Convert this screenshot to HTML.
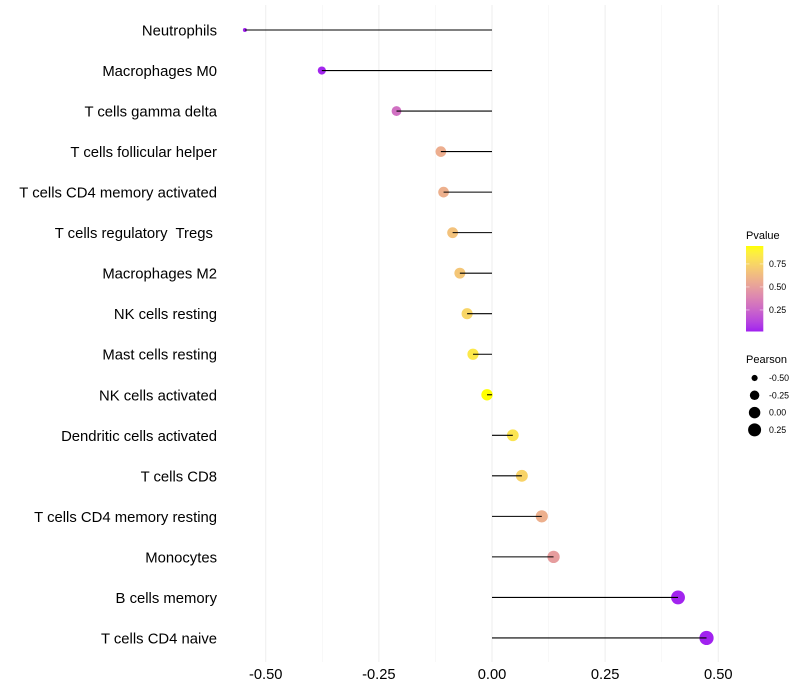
<!DOCTYPE html>
<html>
<head>
<meta charset="utf-8">
<title>Immune cell correlation lollipop chart</title>
<style>
html,body{margin:0;padding:0;background:#fff;}
svg{display:block;}
text{font-family:"Liberation Sans",sans-serif;fill:#000;white-space:pre;}
</style>
</head>
<body>
<svg id="chart" xmlns="http://www.w3.org/2000/svg" width="800" height="700" viewBox="0 0 800 700">
<defs>
<linearGradient id="pvalue-gradient" x1="0" y1="1" x2="0" y2="0"></linearGradient>
</defs>
<rect x="0" y="0" width="800" height="700" fill="#fff"></rect>
<g id="grid"></g>
<g id="points"></g>
<g id="stems"></g>
<g id="ylabels"></g>
<g id="xlabels"></g>
<g id="legend-color"></g>
<g id="legend-size"></g>
</svg>
<script>
const categories = ["Neutrophils","Macrophages M0","T cells gamma delta","T cells follicular helper","T cells CD4 memory activated","T cells regulatory  Tregs ","Macrophages M2","NK cells resting","Mast cells resting","NK cells activated","Dendritic cells activated","T cells CD8","T cells CD4 memory resting","Monocytes","B cells memory","T cells CD4 naive"];
const pearson = [-0.546,-0.376,-0.211,-0.113,-0.107,-0.087,-0.071,-0.055,-0.042,-0.011,0.046,0.066,0.11,0.136,0.411,0.474];
const pvalue = [0.02,0.03,0.29,0.57,0.58,0.66,0.68,0.75,0.84,0.945,0.82,0.74,0.58,0.49,0.025,0.02];
const xTicks = [-0.5,-0.25,0,0.25,0.5];
const xTickLabels = ["-0.50","-0.25","0.00","0.25","0.50"];
const xMinorTicks = [-0.375,-0.125,0.125,0.375];
const pvalueTicks = [0.25,0.5,0.75];
const pvalueTickLabels = ["0.25","0.50","0.75"];
const pearsonLegendValues = [-0.5,-0.25,0,0.25];
const pearsonLegendLabels = ["-0.50","-0.25","0.00","0.25"];

const NS = "http://www.w3.org/2000/svg";
const X0 = 492, XK = 452.6, Y0 = 30, YSTEP = 40.53;
const xScale = v => X0 + v * XK;
const yScale = i => Y0 + i * YSTEP;
const pMin = 0.016, pMax = 0.945;
const sizeMin = Math.min(...pearson), sizeMax = Math.max(...pearson);
const rScale = v => {
  const t = Math.max(0, Math.min(1, (v - sizeMin) / ((sizeMax - sizeMin) || 1)));
  return 2.0 + Math.sqrt(t) * 5.1;
};
function rgb2lab(c){
  const f = x => { x /= 255; return x > 0.04045 ? Math.pow((x + 0.055) / 1.055, 2.4) : x / 12.92; };
  const r = f(c[0]), g = f(c[1]), b = f(c[2]);
  const X = (0.4124 * r + 0.3576 * g + 0.1805 * b) / 0.95047;
  const Y = 0.2126 * r + 0.7152 * g + 0.0722 * b;
  const Z = (0.0193 * r + 0.1192 * g + 0.9505 * b) / 1.08883;
  const h = t => t > 0.008856 ? Math.cbrt(t) : 7.787 * t + 16 / 116;
  return [116 * h(Y) - 16, 500 * (h(X) - h(Y)), 200 * (h(Y) - h(Z))];
}
function lab2rgb(l){
  const fy = (l[0] + 16) / 116, fx = l[1] / 500 + fy, fz = fy - l[2] / 200;
  const h = t => t * t * t > 0.008856 ? t * t * t : (t - 16 / 116) / 7.787;
  const X = h(fx) * 0.95047, Y = h(fy), Z = h(fz) * 1.08883;
  const g = x => { x = x > 0.0031308 ? 1.055 * Math.pow(x, 1 / 2.4) - 0.055 : 12.92 * x; return Math.round(Math.max(0, Math.min(1, x)) * 255); };
  return "rgb(" + g(3.2406 * X - 1.5372 * Y - 0.4986 * Z) + "," + g(-0.9689 * X + 1.8758 * Y + 0.0415 * Z) + "," + g(0.0557 * X - 0.2040 * Y + 1.0570 * Z) + ")";
}
const labLow = rgb2lab([160, 32, 240]), labHigh = rgb2lab([255, 255, 0]);
function colorAt(t){
  t = Math.max(0, Math.min(1, t));
  return lab2rgb(labLow.map((v, i) => v + (labHigh[i] - v) * t));
}
const pColor = p => colorAt((p - pMin) / (pMax - pMin));
function mk(tag, attrs, parent, content){
  const el = document.createElementNS(NS, tag);
  for (const k in attrs) el.setAttribute(k, attrs[k]);
  if (content !== undefined) el.textContent = content;
  parent.appendChild(el);
  return el;
}
const gGrid = document.getElementById("grid");
const gPoints = document.getElementById("points");
const gStems = document.getElementById("stems");
const gY = document.getElementById("ylabels");
const gX = document.getElementById("xlabels");
const gLC = document.getElementById("legend-color");
const gLS = document.getElementById("legend-size");

xMinorTicks.forEach(v => {
  const el = mk("line", {x1: xScale(v), x2: xScale(v), y1: 5, y2: 662, stroke: "#f2f2f2", "stroke-width": 0.55}, gGrid);
  
  
});
xTicks.forEach((v, i) => {
  const el = mk("line", {x1: xScale(v), x2: xScale(v), y1: 5, y2: 662, stroke: "#efefef", "stroke-width": 1.07}, gGrid);
  
  
  const t = mk("text", {x: xScale(v), y: 679, "text-anchor": "middle", "font-size": 14.7}, gX, xTickLabels[i]);
  
  
});
categories.forEach((c, i) => {
  const y = yScale(i);
  const t = mk("text", {x: 217, y: y + 5.5, "text-anchor": "end", "font-size": 14.85}, gY, c);
  
  
  const pt = mk("circle", {cx: xScale(pearson[i]), cy: y, r: rScale(pearson[i]), fill: pColor(pvalue[i])}, gPoints);
  
  
  const st = mk("line", {x1: X0, x2: xScale(pearson[i]), y1: y, y2: y, stroke: "#000", "stroke-width": 1.07}, gStems);
  
  
});

/* Pvalue colour legend */
const title1 = mk("text", {x: 746, y: 239, "font-size": 11}, gLC, "Pvalue");


const grad = document.getElementById("pvalue-gradient");
for (let s = 0; s <= 20; s++) {
  mk("stop", {offset: s / 20, "stop-color": colorAt(s / 20)}, grad);
}
const bar = mk("rect", {x: 746, y: 246, width: 17.3, height: 85.5, fill: "url(#pvalue-gradient)"}, gLC);


const barY = p => 331.5 - (p - pMin) / (pMax - pMin) * 85.5;
pvalueTicks.forEach((p, i) => {
  const y = barY(p);
  const a = mk("line", {x1: 746, x2: 749.5, y1: y, y2: y, stroke: "#fff", "stroke-width": 0.6, opacity: 0.8}, gLC);
  
  
  const b = mk("line", {x1: 759.8, x2: 763.3, y1: y, y2: y, stroke: "#fff", "stroke-width": 0.6, opacity: 0.8}, gLC);
  
  
  const t = mk("text", {x: 769, y: y + 3.1, "font-size": 8.8}, gLC, pvalueTickLabels[i]);
  
  
});

/* Pearson size legend */
const title2 = mk("text", {x: 746, y: 363, "font-size": 11}, gLS, "Pearson");


pearsonLegendValues.forEach((v, i) => {
  const y = 378 + i * 17.3;
  const c = mk("circle", {cx: 754.6, cy: y, r: rScale(v), fill: "#000"}, gLS);
  
  
  const t = mk("text", {x: 769, y: y + 3.1, "font-size": 8.8}, gLS, pearsonLegendLabels[i]);
  
  
});
</script>
</body>
</html>
